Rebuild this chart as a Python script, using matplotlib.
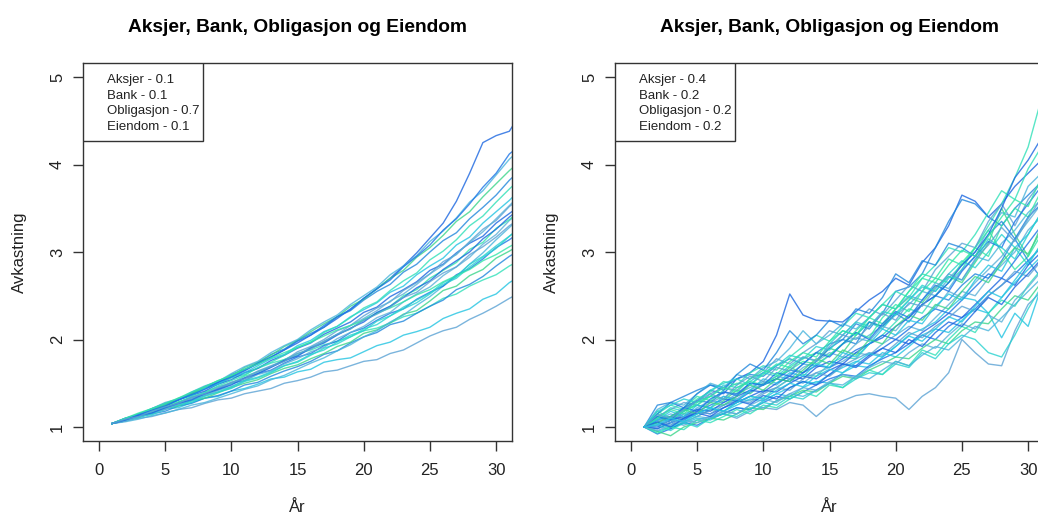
import numpy as np
import matplotlib
matplotlib.use("Agg")
import matplotlib.pyplot as plt
from matplotlib.patches import Rectangle

plt.rcParams['font.family'] = ['Liberation Sans', 'DejaVu Sans']

# Years on the x axis
years_a = list(range(1, 33))
years_b = list(range(1, 32))

# Portfolio weights shown in each panel's legend
weights_a = [("Aksjer", 0.1), ("Bank", 0.1), ("Obligasjon", 0.7), ("Eiendom", 0.1)]
weights_b = [("Aksjer", 0.4), ("Bank", 0.2), ("Obligasjon", 0.2), ("Eiendom", 0.2)]

# Simulated cumulative return paths, low-risk portfolio
paths_a = [
    [1.04,1.09,1.14,1.19,1.25,1.31,1.37,1.44,1.51,1.58,1.65,1.72,1.80,1.88,1.96,2.05,2.14,2.24,2.35,2.47,2.58,2.70,2.84,2.99,3.16,3.33,3.58,3.90,4.25,4.33,4.38,4.62],
    [1.04,1.07,1.10,1.12,1.16,1.20,1.22,1.27,1.31,1.33,1.38,1.41,1.44,1.50,1.53,1.57,1.63,1.65,1.70,1.75,1.77,1.84,1.88,1.96,2.04,2.10,2.14,2.23,2.30,2.38,2.47,2.55],
    [1.04,1.09,1.11,1.16,1.21,1.22,1.28,1.33,1.35,1.41,1.44,1.49,1.55,1.57,1.63,1.66,1.74,1.77,1.79,1.86,1.93,1.97,2.05,2.09,2.14,2.24,2.30,2.35,2.46,2.52,2.65,2.74],
    [1.04,1.10,1.15,1.21,1.26,1.31,1.38,1.44,1.49,1.56,1.60,1.67,1.73,1.77,1.84,1.88,1.94,1.98,2.03,2.10,2.13,2.19,2.26,2.30,2.38,2.47,2.52,2.61,2.68,2.74,2.84,2.92],
    [1.04,1.07,1.12,1.15,1.18,1.24,1.27,1.33,1.36,1.41,1.48,1.51,1.58,1.64,1.69,1.75,1.83,1.87,1.96,2.03,2.08,2.17,2.21,2.30,2.38,2.45,2.57,2.63,2.72,2.84,2.95,3.04],
    [1.04,1.08,1.11,1.16,1.21,1.24,1.30,1.33,1.39,1.45,1.50,1.54,1.61,1.67,1.71,1.78,1.84,1.92,1.97,2.07,2.11,2.19,2.29,2.33,2.44,2.56,2.61,2.73,2.80,2.93,3.01,3.10],
    [1.04,1.06,1.09,1.13,1.16,1.20,1.25,1.28,1.33,1.38,1.43,1.47,1.54,1.59,1.66,1.73,1.79,1.87,1.94,2.03,2.10,2.20,2.28,2.39,2.49,2.61,2.72,2.86,2.99,3.14,3.28,3.42],
    [1.04,1.09,1.13,1.19,1.22,1.28,1.34,1.37,1.44,1.50,1.53,1.61,1.65,1.73,1.80,1.84,1.93,1.98,2.08,2.13,2.22,2.30,2.35,2.46,2.54,2.61,2.74,2.81,2.92,3.05,3.14,3.25],
    [1.04,1.08,1.12,1.14,1.20,1.25,1.28,1.35,1.40,1.44,1.52,1.56,1.62,1.70,1.75,1.83,1.88,1.97,2.05,2.10,2.21,2.27,2.37,2.45,2.53,2.65,2.72,2.86,2.95,3.07,3.18,3.30],
    [1.04,1.07,1.11,1.16,1.20,1.26,1.30,1.36,1.42,1.46,1.53,1.60,1.64,1.72,1.78,1.86,1.91,2.01,2.08,2.15,2.25,2.31,2.43,2.52,2.60,2.73,2.83,2.94,3.09,3.20,3.36,3.48],
    [1.04,1.10,1.13,1.18,1.24,1.29,1.33,1.40,1.46,1.50,1.58,1.63,1.69,1.77,1.82,1.91,1.97,2.06,2.12,2.23,2.30,2.38,2.50,2.57,2.70,2.79,2.88,3.03,3.11,3.27,3.37,3.50],
    [1.04,1.09,1.14,1.20,1.24,1.31,1.36,1.41,1.49,1.54,1.62,1.67,1.76,1.82,1.90,1.96,2.06,2.13,2.20,2.31,2.37,2.49,2.57,2.66,2.79,2.86,2.99,3.10,3.18,3.33,3.44,3.55],
    [1.04,1.07,1.13,1.17,1.21,1.27,1.33,1.38,1.43,1.51,1.56,1.64,1.70,1.76,1.86,1.92,2.00,2.10,2.16,2.27,2.36,2.43,2.56,2.65,2.75,2.89,2.97,3.12,3.26,3.36,3.52,3.63],
    [1.04,1.09,1.15,1.18,1.25,1.32,1.36,1.44,1.49,1.57,1.62,1.70,1.78,1.83,1.93,1.99,2.09,2.15,2.26,2.34,2.42,2.54,2.61,2.74,2.84,2.93,3.08,3.17,3.33,3.46,3.59,3.74],
    [1.04,1.08,1.12,1.18,1.22,1.28,1.35,1.39,1.47,1.53,1.59,1.68,1.74,1.82,1.91,1.97,2.08,2.15,2.25,2.36,2.43,2.56,2.67,2.76,2.91,3.01,3.14,3.30,3.41,3.57,3.72,3.86],
    [1.04,1.10,1.14,1.21,1.27,1.31,1.39,1.46,1.51,1.60,1.66,1.73,1.83,1.89,1.99,2.07,2.14,2.26,2.33,2.45,2.55,2.63,2.77,2.86,3.00,3.13,3.22,3.38,3.51,3.65,3.82,3.96],
    [1.04,1.09,1.15,1.20,1.25,1.33,1.38,1.46,1.53,1.58,1.68,1.74,1.82,1.92,1.99,2.09,2.18,2.26,2.38,2.46,2.58,2.70,2.79,2.94,3.05,3.19,3.35,3.46,3.63,3.78,3.93,4.06],
    [1.04,1.10,1.14,1.21,1.28,1.32,1.40,1.47,1.52,1.61,1.69,1.75,1.85,1.93,2.00,2.11,2.20,2.28,2.40,2.50,2.60,2.74,2.84,2.96,3.12,3.24,3.39,3.57,3.70,3.88,4.06,4.20],
    [1.04,1.08,1.14,1.19,1.24,1.31,1.37,1.43,1.51,1.57,1.64,1.73,1.80,1.88,1.98,2.05,2.16,2.26,2.34,2.47,2.58,2.68,2.83,2.95,3.08,3.25,3.38,3.55,3.74,3.90,4.12,4.24],
    [1.04,1.08,1.11,1.16,1.22,1.25,1.30,1.36,1.40,1.46,1.53,1.57,1.63,1.70,1.74,1.82,1.90,1.95,2.03,2.12,2.17,2.27,2.35,2.42,2.52,2.63,2.70,2.83,2.94,3.04,3.18,3.30],
    [1.04,1.07,1.12,1.17,1.21,1.26,1.32,1.37,1.42,1.49,1.55,1.61,1.69,1.75,1.82,1.91,1.98,2.06,2.16,2.24,2.33,2.44,2.52,2.63,2.75,2.85,2.98,3.11,3.23,3.38,3.53,3.68],
    [1.04,1.10,1.16,1.21,1.27,1.33,1.40,1.46,1.53,1.59,1.66,1.72,1.79,1.85,1.91,1.97,2.04,2.11,2.16,2.22,2.30,2.36,2.43,2.51,2.57,2.66,2.73,2.80,2.90,2.97,3.06,3.14],
    [1.04,1.08,1.13,1.16,1.22,1.27,1.31,1.38,1.43,1.48,1.56,1.61,1.68,1.76,1.81,1.90,1.96,2.05,2.13,2.20,2.31,2.38,2.48,2.59,2.67,2.80,2.90,3.00,3.15,3.26,3.40,3.52],
    [1.04,1.09,1.12,1.18,1.23,1.27,1.34,1.38,1.45,1.51,1.55,1.63,1.69,1.75,1.84,1.89,1.98,2.06,2.12,2.22,2.29,2.37,2.48,2.54,2.66,2.76,2.83,2.97,3.06,3.17,3.30,3.40],
]

# Simulated cumulative return paths, high-risk portfolio
paths_b = [
    [1.00,1.12,1.05,1.18,1.30,1.42,1.38,1.55,1.62,1.75,2.05,2.52,2.28,2.22,2.21,2.20,2.32,2.45,2.55,2.70,2.62,2.88,3.05,3.30,3.65,3.58,3.40,3.55,3.75,3.90,4.05],
    [1.00,0.98,1.05,1.02,1.08,1.12,1.15,1.10,1.18,1.22,1.20,1.28,1.25,1.12,1.25,1.30,1.36,1.38,1.35,1.33,1.20,1.35,1.45,1.62,2.00,1.85,1.72,1.70,2.10,2.40,2.55],
    [1.00,0.95,1.00,1.04,1.10,1.08,1.16,1.22,1.20,1.30,1.38,1.35,1.45,1.52,1.50,1.62,1.70,1.68,1.80,1.92,2.05,2.12,2.20,2.35,2.48,2.45,2.30,2.02,2.30,2.15,2.60],
    [1.00,1.05,0.98,1.06,1.12,1.20,1.18,1.28,1.35,1.33,1.45,1.55,1.60,1.58,1.72,1.80,1.78,1.95,2.05,2.20,2.35,2.30,2.50,2.65,2.80,3.05,3.30,3.55,3.85,4.20,4.75],
    [1.00,1.25,1.28,1.35,1.42,1.48,1.45,1.55,1.60,1.58,1.70,1.78,1.72,1.85,1.95,2.00,2.18,2.12,2.30,2.55,2.60,2.75,3.05,3.35,3.60,3.55,3.40,3.30,3.50,3.65,3.80],
    [1.00,1.15,1.08,1.20,1.25,1.22,1.30,1.42,1.38,1.50,1.55,1.68,1.62,1.75,1.90,1.85,2.05,2.20,2.15,2.35,2.48,2.42,2.60,2.72,2.65,2.88,3.10,3.50,3.20,2.95,3.30],
    [1.00,1.08,1.15,1.10,1.22,1.30,1.28,1.38,1.45,1.52,1.48,1.60,1.72,1.70,1.82,1.95,2.02,1.98,2.15,2.28,2.40,2.55,2.50,2.70,2.85,3.00,3.25,3.45,3.40,3.75,3.90],
    [1.00,0.92,0.98,1.05,1.02,1.10,1.15,1.22,1.20,1.28,1.35,1.32,1.40,1.48,1.55,1.60,1.58,1.70,1.78,1.85,1.95,2.05,2.00,2.15,2.25,2.35,2.50,2.62,2.75,2.90,3.05],
    [1.00,1.10,1.22,1.18,1.30,1.35,1.48,1.45,1.52,1.62,1.58,1.70,1.80,1.75,1.95,2.10,2.05,2.20,2.12,2.30,2.45,2.60,2.55,2.75,2.90,2.82,3.00,3.20,3.05,2.85,3.10],
    [1.00,1.02,1.08,1.15,1.12,1.20,1.25,1.32,1.30,1.40,1.45,1.55,1.50,1.62,1.68,1.75,1.85,1.82,1.95,2.05,2.15,2.10,2.25,2.40,2.55,2.50,2.70,2.85,3.00,3.25,3.40],
    [1.00,1.18,1.10,1.22,1.35,1.30,1.42,1.50,1.48,1.60,1.72,1.68,1.78,1.85,1.82,1.95,2.10,2.25,2.18,2.35,2.55,2.75,2.70,2.92,2.85,3.05,3.25,3.00,2.80,2.95,3.20],
    [1.00,0.98,1.05,1.10,1.18,1.15,1.22,1.28,1.35,1.42,1.40,1.50,1.58,1.55,1.65,1.72,1.70,1.82,1.90,2.00,1.95,2.08,2.18,2.30,2.25,2.40,2.55,2.70,2.62,2.85,3.00],
    [1.00,1.12,1.20,1.28,1.25,1.38,1.45,1.42,1.55,1.62,1.78,1.72,1.85,1.95,2.10,2.05,2.20,2.35,2.28,2.45,2.62,2.55,2.80,2.95,3.10,3.05,3.35,3.55,3.30,3.60,3.80],
    [1.00,1.05,1.00,1.08,1.15,1.22,1.18,1.25,1.32,1.30,1.38,1.45,1.52,1.50,1.60,1.68,1.75,1.72,1.85,1.80,1.92,2.05,2.12,2.08,2.22,2.35,2.30,2.48,2.65,2.80,2.95],
    [1.00,1.15,1.25,1.20,1.32,1.40,1.52,1.48,1.62,1.70,1.65,1.80,1.92,2.05,1.98,2.15,2.30,2.25,2.40,2.55,2.48,2.70,2.85,3.05,3.00,3.20,3.45,3.70,3.60,3.95,4.20],
    [1.00,1.08,1.12,1.22,1.30,1.28,1.40,1.38,1.50,1.48,1.55,1.65,1.62,1.75,1.90,2.00,1.95,2.20,2.15,2.30,2.20,2.40,2.50,2.45,2.62,2.75,2.70,2.90,3.15,2.90,2.70],
    [1.00,0.95,0.90,1.00,1.05,1.10,1.08,1.15,1.22,1.20,1.30,1.35,1.42,1.40,1.50,1.58,1.55,1.65,1.72,1.80,1.78,1.90,2.00,1.95,2.10,2.20,2.18,2.35,2.50,2.45,2.65],
    [1.00,1.20,1.28,1.25,1.38,1.50,1.45,1.60,1.55,1.68,1.75,1.90,2.10,1.95,2.05,2.18,2.12,2.25,2.40,2.35,2.50,2.45,2.65,2.58,2.80,2.95,2.90,3.10,3.25,3.45,3.60],
    [1.00,1.05,1.12,1.08,1.18,1.25,1.32,1.30,1.40,1.48,1.55,1.52,1.62,1.70,1.68,1.78,1.88,1.95,2.05,2.00,2.12,2.25,2.35,2.30,2.45,2.60,2.75,2.70,2.90,3.10,3.30],
    [1.00,1.02,0.96,1.05,1.00,1.10,1.15,1.12,1.20,1.28,1.25,1.35,1.32,1.42,1.50,1.45,1.55,1.62,1.60,1.72,1.68,1.85,1.78,1.95,2.05,2.00,1.85,1.80,2.05,2.35,2.60],
    [1.00,1.10,1.05,1.15,1.20,1.28,1.35,1.32,1.42,1.50,1.58,1.55,1.68,1.75,1.85,1.80,1.95,2.05,2.15,2.10,2.28,2.40,2.35,2.55,2.48,2.65,2.80,2.95,3.15,3.35,3.55],
    [1.00,1.12,1.08,1.18,1.25,1.35,1.32,1.45,1.52,1.48,1.58,1.65,1.75,1.72,1.82,1.95,2.08,2.02,2.25,2.40,2.32,2.55,2.70,2.65,2.88,3.05,2.95,3.30,3.50,3.40,3.70],
    [1.00,1.00,1.08,1.12,1.20,1.18,1.28,1.35,1.42,1.40,1.50,1.58,1.55,1.68,1.75,1.72,1.85,1.95,2.02,2.15,2.25,2.40,2.50,2.65,2.85,3.00,3.20,3.50,3.85,4.05,4.30],
    [1.00,1.08,1.02,1.12,1.18,1.15,1.25,1.30,1.28,1.38,1.45,1.42,1.55,1.62,1.58,1.70,1.78,1.85,1.82,1.95,2.08,2.02,2.15,2.25,2.38,2.32,2.50,2.62,2.78,2.72,2.90],
    [1.00,1.08,1.18,1.12,1.25,1.22,1.35,1.30,1.42,1.55,1.50,1.62,1.58,1.72,1.68,1.85,1.80,1.95,2.12,2.05,2.22,2.18,2.38,2.52,2.45,2.68,2.85,2.78,3.05,3.20,3.45],
    [1.00,0.93,1.00,0.97,1.08,1.05,1.12,1.20,1.15,1.25,1.22,1.32,1.40,1.35,1.48,1.45,1.58,1.65,1.60,1.75,1.70,1.88,1.82,2.00,2.15,2.08,2.30,2.45,2.38,2.62,2.80],
    [1.00,1.15,1.28,1.22,1.38,1.48,1.42,1.60,1.72,1.65,1.85,2.10,1.95,2.05,2.22,2.15,2.35,2.30,2.48,2.75,2.65,2.90,2.85,3.10,3.05,2.95,3.20,3.35,3.15,3.40,3.55],
    [1.00,1.05,1.12,1.20,1.15,1.28,1.25,1.35,1.48,1.42,1.55,1.52,1.65,1.78,1.72,1.88,1.82,2.00,1.95,2.15,2.28,2.22,2.40,2.35,2.55,2.72,2.65,2.88,3.05,2.98,3.25],
    [1.00,1.02,1.08,1.05,1.12,1.10,1.18,1.15,1.25,1.22,1.30,1.38,1.35,1.42,1.50,1.48,1.58,1.55,1.65,1.75,1.70,1.82,1.92,1.88,2.02,2.15,2.10,2.25,2.40,2.55,2.70],
    [1.00,1.12,1.08,1.22,1.18,1.32,1.40,1.36,1.50,1.48,1.62,1.58,1.72,1.85,1.80,1.95,2.08,2.00,2.18,2.32,2.25,2.45,2.62,2.55,2.78,2.95,3.12,3.05,3.35,3.55,3.75],
    [1.00,1.18,1.25,1.32,1.28,1.42,1.50,1.55,1.48,1.62,1.70,1.82,1.78,1.92,1.88,2.05,2.20,2.15,2.32,2.28,2.45,2.62,2.55,2.72,2.68,2.90,3.15,3.05,2.92,3.20,3.45],
    [1.00,0.96,1.02,1.08,1.05,1.12,1.18,1.15,1.25,1.32,1.28,1.38,1.45,1.42,1.52,1.60,1.56,1.68,1.75,1.72,1.85,1.95,1.90,2.05,2.18,2.12,2.28,2.20,2.45,2.60,2.78],
    [1.00,1.10,1.20,1.15,1.28,1.35,1.45,1.40,1.55,1.65,1.60,1.75,1.85,1.80,1.98,2.10,2.05,2.25,2.40,2.35,2.55,2.70,2.65,2.85,3.02,2.95,3.18,3.40,3.60,3.52,3.85],
    [1.00,1.06,1.00,1.10,1.16,1.12,1.22,1.30,1.26,1.36,1.32,1.45,1.52,1.48,1.60,1.72,1.68,1.80,1.90,1.85,2.00,1.92,2.08,2.20,2.15,2.32,2.48,2.40,2.60,2.75,2.92],
    [1.00,1.14,1.10,1.20,1.30,1.38,1.32,1.48,1.58,1.52,1.68,1.64,1.80,1.76,1.92,2.05,2.00,2.15,2.30,2.22,2.42,2.38,2.58,2.75,2.68,2.92,3.08,3.28,3.12,3.38,3.62],
    [1.00,1.03,1.10,1.06,1.15,1.22,1.18,1.28,1.35,1.32,1.42,1.50,1.46,1.58,1.66,1.62,1.74,1.84,1.80,1.92,2.04,1.98,2.12,2.26,2.20,2.38,2.55,2.48,2.68,2.88,3.08],
]

# Blue to green line colours, cycled over the paths
line_colors = ['#1a66e0', '#5aa2d4', '#22c4e2', '#2fe0b8', '#1f86dc',
               '#3ad58a', '#48b4dc', '#1b74e6', '#28d2d0', '#5ab0d8', '#30e6a8']

title = "Aksjer, Bank, Obligasjon og Eiendom"

fig = plt.figure(figsize=(10.38, 5.16), dpi=100)
ax_a = fig.add_axes([83 / 1038, 75 / 516, 429 / 1038, 378 / 516])
ax_b = fig.add_axes([615 / 1038, 75 / 516, 429 / 1038, 378 / 516])


def draw_panel(ax, years, paths, weights):
    for i, p in enumerate(paths):
        ax.plot(years, p, color=line_colors[i % len(line_colors)], lw=1.0, alpha=0.8)
    ax.set_xlim(-1.2, 31.2)
    ax.set_ylim(0.84, 5.16)
    ax.set_xticks([0, 5, 10, 15, 20, 25, 30])
    ax.set_yticks([1, 2, 3, 4, 5])
    ax.tick_params(axis='both', direction='out', length=7, width=1,
                   color='#333333', labelcolor='#222222', labelsize=12)
    ax.tick_params(axis='x', pad=9)
    ax.tick_params(axis='y', pad=6)
    for lab in ax.get_yticklabels():
        lab.set_rotation(90)
        lab.set_va('center')
    for sp in ax.spines.values():
        sp.set_color('#333333')
        sp.set_linewidth(1.0)
    ax.set_title(title, fontsize=13.8, fontweight='bold', pad=22)
    ax.text(0.5, -0.177, "År", transform=ax.transAxes, ha='center', va='center',
            fontsize=12, color='#222222')
    ax.text(-0.147, 0.5, "Avkastning", transform=ax.transAxes, ha='center', va='center',
            rotation=90, fontsize=12, color='#222222')

    # legend box with the portfolio weights
    ax.add_patch(Rectangle((0, 0.7937), 120 / 429, 0.2063, transform=ax.transAxes,
                           facecolor='white', edgecolor='#333333', lw=1.0, zorder=5))
    ys = [0.955, 0.914, 0.873, 0.832]
    for (name, w), y in zip(weights, ys):
        ax.text(0.056, y, f"{name} - {w}", transform=ax.transAxes, ha='left', va='center',
                fontsize=9.5, color='#222222', zorder=6)


draw_panel(ax_a, years_a, paths_a, weights_a)
draw_panel(ax_b, years_b, paths_b, weights_b)

fig.savefig('out.png', dpi=100)
